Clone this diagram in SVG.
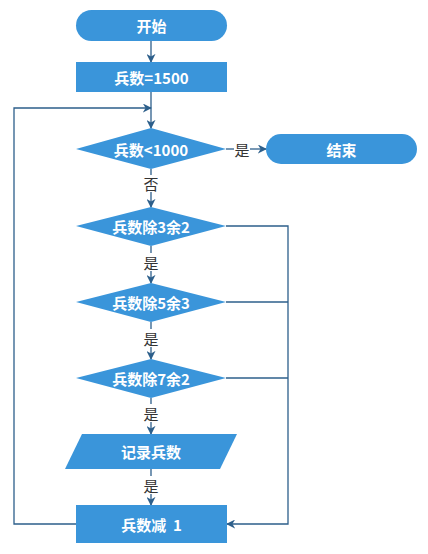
<svg xmlns="http://www.w3.org/2000/svg" width="428" height="554" viewBox="0 0 428 554">
<defs>
<style>
.n{fill:#3a95da;}
.t{fill:#ffffff;font-family:"Noto Sans CJK SC","Liberation Sans",sans-serif;font-size:15px;font-weight:bold;text-anchor:middle;dominant-baseline:central;}
.l{fill:#333333;font-family:"Noto Sans CJK SC","Liberation Sans",sans-serif;font-size:15px;text-anchor:middle;dominant-baseline:central;}
.c{fill:none;stroke:#2d5f8b;stroke-width:1.3;}
</style>
<marker id="ah" viewBox="0 0 10 10" refX="9" refY="5" markerWidth="9" markerHeight="9" markerUnits="userSpaceOnUse" orient="auto">
<path d="M0,0 L10,5 L0,10 L3,5 Z" fill="#2d5f8b"/>
</marker>
</defs>
<rect width="428" height="554" fill="#ffffff"/>
<g id="connectors">
<path class="c" d="M151,41 V62" marker-end="url(#ah)"/>
<path class="c" d="M151,92 V128" marker-end="url(#ah)"/>
<path class="c" d="M76,524 H14 V108 H151" marker-end="url(#ah)"/>
<path class="c" d="M226,149 H234"/>
<path class="c" d="M250,149 H266" marker-end="url(#ah)"/>
<path class="c" d="M151,169 V175"/>
<path class="c" d="M151,192 V207" marker-end="url(#ah)"/>
<path class="c" d="M151,246 V253"/>
<path class="c" d="M151,271 V283" marker-end="url(#ah)"/>
<path class="c" d="M151,322 V329"/>
<path class="c" d="M151,347 V359" marker-end="url(#ah)"/>
<path class="c" d="M151,398 V404"/>
<path class="c" d="M151,422 V434" marker-end="url(#ah)"/>
<path class="c" d="M151,469 V476"/>
<path class="c" d="M151,494 V505" marker-end="url(#ah)"/>
<path class="c" d="M226,226 H288 V524 H227" marker-end="url(#ah)"/>
<path class="c" d="M226,302 H288"/>
<path class="c" d="M226,378 H288"/>
<text class="l" x="242" y="149">是</text>
<text class="l" x="151" y="183">否</text>
<text class="l" x="151" y="262">是</text>
<text class="l" x="151" y="338">是</text>
<text class="l" x="151" y="413">是</text>
<text class="l" x="151" y="485">是</text>
</g>
<g id="start"><rect class="n" x="76" y="10" width="151" height="31" rx="15.5"/><text class="t" x="151.5" y="25.5">开始</text></g>
<g id="init"><rect class="n" x="76" y="62" width="151" height="30"/><text class="t" x="151.5" y="77">兵数=1500</text></g>
<g id="check1000"><polygon class="n" points="76,149 151,128 226,149 151,169"/><text class="t" x="151" y="149">兵数&lt;1000</text></g>
<g id="end"><rect class="n" x="266" y="134" width="151" height="30" rx="15"/><text class="t" x="341.5" y="149">结束</text></g>
<g id="mod3"><polygon class="n" points="76,226 151,207 226,226 151,246"/><text class="t" x="151" y="226">兵数除3余2</text></g>
<g id="mod5"><polygon class="n" points="76,302 151,283 226,302 151,322"/><text class="t" x="151" y="302">兵数除5余3</text></g>
<g id="mod7"><polygon class="n" points="76,378 151,359 226,378 151,398"/><text class="t" x="151" y="378">兵数除7余2</text></g>
<g id="record"><polygon class="n" points="82,434 237,434 220,469 65,469"/><text class="t" x="151" y="451.5">记录兵数</text></g>
<g id="decrement"><rect class="n" x="76" y="505" width="151" height="38"/><text class="t" x="151.5" y="524" xml:space="preserve">兵数减  1</text></g>
</svg>
